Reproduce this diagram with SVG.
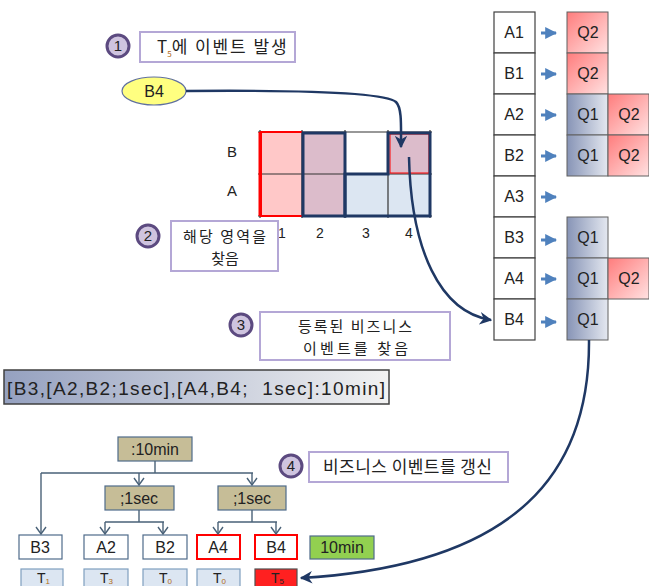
<svg xmlns="http://www.w3.org/2000/svg" width="649" height="586" viewBox="0 0 649 586">
<defs>
<linearGradient id="gPink" x1="0" y1="0" x2="1" y2="1"><stop offset="0" stop-color="#ff7c7c"/><stop offset="1" stop-color="#ffe2e2"/></linearGradient>
<linearGradient id="gBlue" x1="0" y1="0" x2="1" y2="0"><stop offset="0" stop-color="#8794b6"/><stop offset="1" stop-color="#e4e8f0"/></linearGradient>
<linearGradient id="gFormula" x1="0" y1="0" x2="1" y2="0"><stop offset="0" stop-color="#95a1c0"/><stop offset="1" stop-color="#f2f2f2"/></linearGradient>
<marker id="mNavy" viewBox="0 0 10 10" refX="9" refY="5" markerWidth="5" markerHeight="5" orient="auto" markerUnits="strokeWidth"><path d="M0,0 L10,5 L0,10 L3,5 Z" fill="#1f3864"/></marker>
<marker id="mOpen" viewBox="0 0 12 12" refX="6" refY="11" markerWidth="12" markerHeight="12" orient="0" markerUnits="userSpaceOnUse"><path d="M1,4 L6,11 L11,4" fill="none" stroke="#4a6278" stroke-width="1.4"/></marker>
<marker id="mSmall" viewBox="0 0 10 10" refX="9" refY="5" markerWidth="4" markerHeight="4" orient="auto" markerUnits="strokeWidth"><path d="M0,0 L10,5 L0,10 Z" fill="#4f81bd"/></marker>
</defs>
<style>
text{font-family:"Liberation Sans","Noto Sans CJK KR",sans-serif;fill:#222;}
.ko{font-family:"Noto Sans CJK KR","Liberation Sans",sans-serif;font-size:17px;}
.ko2{font-family:"Noto Sans CJK KR","Liberation Sans",sans-serif;font-size:15px;}
.lbl{font-size:16px;text-anchor:middle;}
.step{fill:#cfc4df;stroke:#5c4a80;stroke-width:3;}
.stepn{font-size:15px;text-anchor:middle;fill:#222;}
.note{fill:#fff;stroke:#b4a7d6;stroke-width:2;}
.cell{fill:#fff;stroke:#404040;stroke-width:1.2;}
.qp{fill:url(#gPink);stroke:#606060;stroke-width:1;}
.qb{fill:url(#gBlue);stroke:#606060;stroke-width:1;}
.tan{fill:#c6bd97;stroke:#4f6b8a;stroke-width:1.2;}
.leaf{fill:#fff;stroke:#4f6b8a;stroke-width:1.2;}
.leafr{fill:#fff;stroke:#ff0000;stroke-width:2;}
.tb{fill:#dce6f2;stroke:#7f9fbf;stroke-width:1.2;}
.sub{font-size:8px;fill:#b06a20;}
.tree{fill:none;stroke:#4a6278;stroke-width:1.4;}
.curve{fill:none;stroke:#1f3864;stroke-width:2.5;}
.sarr{stroke:#4f81bd;stroke-width:3;}
.tt{font-size:14px;}
</style>

<!-- step 1 -->
<g id="step1">
<circle class="step" cx="118" cy="46" r="11"/>
<text class="stepn" x="118" y="51">1</text>
<rect class="note" x="140" y="32" width="155" height="30"/>
<text class="ko" x="157" y="53">T<tspan class="sub" dy="4">5</tspan><tspan dy="-4" textLength="115" lengthAdjust="spacing">에 이벤트 발생</tspan></text>
</g>

<g id="evB4">
<ellipse cx="154" cy="91" rx="32" ry="14" fill="#ffff80" stroke="#6070a0" stroke-width="1.2"/>
<text class="lbl" x="154" y="97">B4</text>
</g>

<!-- grid -->
<g id="grid">
<rect x="260" y="132" width="42" height="84" fill="#ffc8c8"/>
<rect x="302" y="132" width="43" height="84" fill="#dcbccb"/>
<rect x="345" y="174" width="85" height="42" fill="#dce6f2"/>
<rect x="388" y="132" width="42" height="42" fill="#dcbccb"/>
<g stroke="#333" stroke-width="1.2">
<line x1="258" y1="132" x2="432" y2="132"/>
<line x1="258" y1="174" x2="432" y2="174"/>
<line x1="258" y1="216" x2="432" y2="216"/>
<line x1="260" y1="130" x2="260" y2="218"/>
<line x1="302" y1="130" x2="302" y2="218"/>
<line x1="345" y1="130" x2="345" y2="218"/>
<line x1="388" y1="130" x2="388" y2="218"/>
<line x1="430" y1="130" x2="430" y2="218"/>
</g>
<path d="M302,132 L261,132 L261,216 L302,216" fill="none" stroke="#ff0000" stroke-width="2"/>
<line x1="260" y1="132" x2="260" y2="216" stroke="#ff0000" stroke-width="3"/>
<rect x="390" y="134" width="39" height="39" fill="none" stroke="#ff0000" stroke-width="1"/>
<rect x="303" y="133" width="42" height="83" fill="none" stroke="#1f3864" stroke-width="3"/>
<path d="M345,216 L345,174 L388,174 L388,133 L430,133 L430,216 Z" fill="none" stroke="#1f3864" stroke-width="3"/>
<text x="232" y="157" font-size="15" text-anchor="middle">B</text>
<text x="232" y="196" font-size="15" text-anchor="middle">A</text>
<text x="282" y="238" font-size="14" text-anchor="middle">1</text>
<text x="320" y="238" font-size="14" text-anchor="middle">2</text>
<text x="366" y="238" font-size="14" text-anchor="middle">3</text>
<text x="409" y="238" font-size="14" text-anchor="middle" fill="#8a6a2a">4</text>
</g>

<g id="step2">
<circle class="step" cx="148" cy="236" r="11"/>
<text class="stepn" x="148" y="241">2</text>
<rect class="note" x="171" y="221" width="107" height="50"/>
<text class="ko2" x="183" y="242" textLength="83" lengthAdjust="spacing">해당 영역을</text>
<text class="ko2" x="225" y="264" text-anchor="middle">찾음</text>
</g>

<g id="step3">
<circle class="step" cx="241" cy="325" r="11"/>
<text class="stepn" x="241" y="330">3</text>
<rect class="note" x="260" y="312" width="190" height="48"/>
<text class="ko2" x="298" y="332" textLength="114" lengthAdjust="spacing">등록된 비즈니스</text>
<text class="ko2" x="303" y="354" textLength="105" lengthAdjust="spacing">이벤트를 찾음</text>
</g>

<!-- right table -->
<g id="table">
<rect class="cell" x="494" y="12" width="41" height="41"/><text class="lbl" x="514" y="38">A1</text>
<rect class="cell" x="494" y="53" width="41" height="41"/><text class="lbl" x="514" y="79">B1</text>
<rect class="cell" x="494" y="94" width="41" height="41"/><text class="lbl" x="514" y="120">A2</text>
<rect class="cell" x="494" y="135" width="41" height="41"/><text class="lbl" x="514" y="161">B2</text>
<rect class="cell" x="494" y="176" width="41" height="41"/><text class="lbl" x="514" y="202">A3</text>
<rect class="cell" x="494" y="217" width="41" height="41"/><text class="lbl" x="514" y="243">B3</text>
<rect class="cell" x="494" y="258" width="41" height="41"/><text class="lbl" x="514" y="284">A4</text>
<rect class="cell" x="494" y="299" width="41" height="41"/><text class="lbl" x="514" y="325">B4</text>
<g>
<line class="sarr" x1="541" y1="33" x2="556" y2="33" marker-end="url(#mSmall)"/>
<line class="sarr" x1="541" y1="74" x2="556" y2="74" marker-end="url(#mSmall)"/>
<line class="sarr" x1="541" y1="115" x2="556" y2="115" marker-end="url(#mSmall)"/>
<line class="sarr" x1="541" y1="156" x2="556" y2="156" marker-end="url(#mSmall)"/>
<line class="sarr" x1="541" y1="197" x2="556" y2="197" marker-end="url(#mSmall)"/>
<line class="sarr" x1="541" y1="240" x2="556" y2="240" marker-end="url(#mSmall)"/>
<line class="sarr" x1="541" y1="279" x2="556" y2="279" marker-end="url(#mSmall)"/>
<line class="sarr" x1="541" y1="322" x2="556" y2="322" marker-end="url(#mSmall)"/>
</g>
<rect class="qp" x="567" y="12" width="41" height="41"/><text class="lbl" x="588" y="38">Q2</text>
<rect class="qp" x="567" y="53" width="41" height="41"/><text class="lbl" x="588" y="79">Q2</text>
<rect class="qb" x="567" y="94" width="41" height="41"/><text class="lbl" x="588" y="120">Q1</text>
<rect class="qp" x="608" y="94" width="41" height="41"/><text class="lbl" x="629" y="120">Q2</text>
<rect class="qb" x="567" y="135" width="41" height="41"/><text class="lbl" x="588" y="161">Q1</text>
<rect class="qp" x="608" y="135" width="41" height="41"/><text class="lbl" x="629" y="161">Q2</text>
<rect class="qb" x="567" y="217" width="41" height="41"/><text class="lbl" x="588" y="243">Q1</text>
<rect class="qb" x="567" y="258" width="41" height="41"/><text class="lbl" x="588" y="284">Q1</text>
<rect class="qp" x="608" y="258" width="41" height="41"/><text class="lbl" x="629" y="284">Q2</text>
<rect class="qb" x="567" y="299" width="41" height="41"/><text class="lbl" x="588" y="325">Q1</text>
</g>

<g id="formula">
<rect x="4" y="370" width="385" height="34" fill="url(#gFormula)" stroke="#404040" stroke-width="1.5"/>
<text x="7" y="395" font-size="19" xml:space="preserve" textLength="378" lengthAdjust="spacing">[B3,[A2,B2;1sec],[A4,B4;  1sec]:10min]</text>
</g>

<!-- tree -->
<g id="n10min"><rect class="tan" x="118" y="437" width="74" height="24"/><text class="lbl" x="155" y="455">:10min</text></g>
<g id="n1secL"><rect class="tan" x="105" y="486" width="69" height="24"/><text class="lbl" x="139" y="504">;1sec</text></g>
<g id="n1secR"><rect class="tan" x="218" y="486" width="68" height="24"/><text class="lbl" x="252" y="504">;1sec</text></g>
<g id="leafB3"><rect class="leaf" x="19" y="535" width="43" height="24"/><text class="lbl" x="40" y="553">B3</text></g>
<g id="leafA2"><rect class="leaf" x="84" y="535" width="44" height="24"/><text class="lbl" x="106" y="553">A2</text></g>
<g id="leafB2"><rect class="leaf" x="143" y="535" width="44" height="24"/><text class="lbl" x="165" y="553">B2</text></g>
<g id="leafA4"><rect class="leafr" x="197" y="535" width="43" height="24"/><text class="lbl" x="218" y="553">A4</text></g>
<g id="leafB4"><rect class="leafr" x="255" y="535" width="42" height="24"/><text class="lbl" x="276" y="553">B4</text></g>
<g id="n10minG"><rect x="310" y="536" width="64" height="23" fill="#92d050" stroke="#4f6b8a" stroke-width="1.2"/><text class="lbl" x="342" y="553">10min</text></g>
<g id="times">
<rect class="tb" x="21" y="569" width="42" height="22"/><text class="tt" x="37" y="583">T<tspan class="sub" dy="1">1</tspan></text>
<rect class="tb" x="84" y="569" width="44" height="22"/><text class="tt" x="100" y="583">T<tspan class="sub" dy="1">3</tspan></text>
<rect class="tb" x="143" y="569" width="44" height="22"/><text class="tt" x="159" y="583">T<tspan class="sub" dy="1">0</tspan></text>
<rect class="tb" x="197" y="569" width="43" height="22"/><text class="tt" x="213" y="583">T<tspan class="sub" dy="1">0</tspan></text>
<rect x="255" y="569" width="42" height="22" fill="#ff2020" stroke="#505050" stroke-width="1.2"/><text class="tt" x="271" y="583">T<tspan class="sub" dy="1" style="fill:#222">5</tspan></text>
</g>

<g id="step4">
<circle class="step" cx="291" cy="466" r="11"/>
<text class="stepn" x="291" y="471">4</text>
<rect class="note" x="309" y="452" width="199" height="30"/>
<text class="ko" x="323" y="473" textLength="169" lengthAdjust="spacing">비즈니스 이벤트를 갱신</text>
</g>

<g id="connectors">
<path class="tree" d="M155,461 L155,473 M41,473 L253,473"/>
<path class="tree" d="M41,473 L41,534" marker-end="url(#mOpen)"/>
<path class="tree" d="M139,473 L139,485" marker-end="url(#mOpen)"/>
<path class="tree" d="M252,473 L252,485" marker-end="url(#mOpen)"/>
<path class="tree" d="M139,510 L139,522 M105,522 L164,522"/>
<path class="tree" d="M105,522 L105,534" marker-end="url(#mOpen)"/>
<path class="tree" d="M163,522 L163,534" marker-end="url(#mOpen)"/>
<path class="tree" d="M252,510 L252,522 M218,522 L277,522"/>
<path class="tree" d="M218,522 L218,534" marker-end="url(#mOpen)"/>
<path class="tree" d="M276,522 L276,534" marker-end="url(#mOpen)"/>
<path class="curve" d="M186,91 C300,90 385,92 396,102 C402,108 401,125 401,147" marker-end="url(#mNavy)"/>
<path class="curve" d="M409,157 C411,250 440,312 491,320" marker-end="url(#mNavy)"/>
<path class="curve" d="M589,340 C590,470 520,565 301,578" marker-end="url(#mNavy)"/>
</g>
</svg>
